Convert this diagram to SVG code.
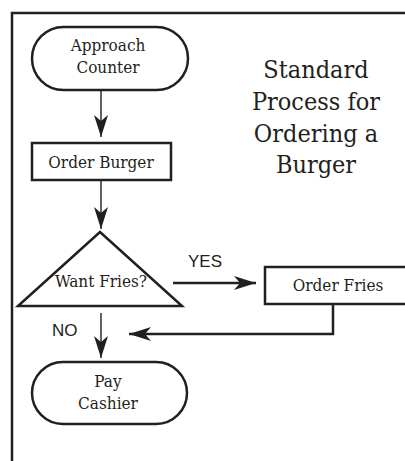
<svg xmlns="http://www.w3.org/2000/svg" width="405" height="461" viewBox="0 0 405 461">
<defs>
<style>
.shape{fill:#fff;stroke:#231f20;stroke-width:2.5}
.t{font-family:"DejaVu Serif Condensed","DejaVu Serif",serif;font-stretch:condensed;font-size:17px;fill:#231f20;text-anchor:middle}
.title{font-family:"DejaVu Serif Condensed","DejaVu Serif",serif;font-stretch:condensed;font-size:25px;fill:#231f20;text-anchor:middle}
.lbl{font-family:"Liberation Sans",Arial,sans-serif;font-size:17px;fill:#231f20}
.thin{fill:none;stroke:#231f20;stroke-width:1.4}
.thick{fill:none;stroke:#231f20;stroke-width:2.5}
</style>
<marker id="ah" viewBox="0 0 22 14" refX="22" refY="7" markerWidth="22" markerHeight="14" markerUnits="userSpaceOnUse" orient="auto">
<path d="M0,0 L22,7 L0,14 L6,7 Z" fill="#231f20"/>
</marker>
</defs>
<rect x="12" y="13" width="410" height="460" fill="#fff" stroke="#231f20" stroke-width="2.5"/>
<g id="title">
<text class="title" x="316" y="78">Standard</text>
<text class="title" x="316" y="110">Process for</text>
<text class="title" x="316" y="142">Ordering a</text>
<text class="title" x="316" y="173">Burger</text>
</g>
<g id="connectors">
<line class="thin" x1="101" y1="91" x2="101" y2="137" marker-end="url(#ah)"/>
<line class="thin" x1="101" y1="181" x2="101" y2="229" marker-end="url(#ah)"/>
<line class="thick" x1="173" y1="283" x2="256" y2="283" marker-end="url(#ah)"/>
<polyline class="thick" points="333,304 333,334 129,334" marker-end="url(#ah)"/>
<line class="thin" x1="101" y1="313" x2="101" y2="358" marker-end="url(#ah)"/>
<text class="lbl" x="188" y="267">YES</text>
<text class="lbl" x="52" y="336">NO</text>
</g>
<g id="approach">
<rect class="shape" x="32" y="27" width="156" height="63" rx="31.5"/>
<text class="t" x="108" y="51">Approach</text>
<text class="t" x="108" y="73">Counter</text>
</g>
<g id="orderBurger">
<rect class="shape" x="32" y="143" width="139" height="37"/>
<text class="t" x="101" y="168">Order Burger</text>
</g>
<g id="wantFries">
<polygon class="shape" points="100,232 18,306 182,306"/>
<text class="t" x="101" y="287">Want Fries?</text>
</g>
<g id="orderFries">
<rect class="shape" x="265" y="267" width="150" height="37"/>
<text class="t" x="338" y="291">Order Fries</text>
</g>
<g id="payCashier">
<rect class="shape" x="32" y="362" width="155" height="62" rx="31"/>
<text class="t" x="108" y="387">Pay</text>
<text class="t" x="108" y="409">Cashier</text>
</g>
</svg>
